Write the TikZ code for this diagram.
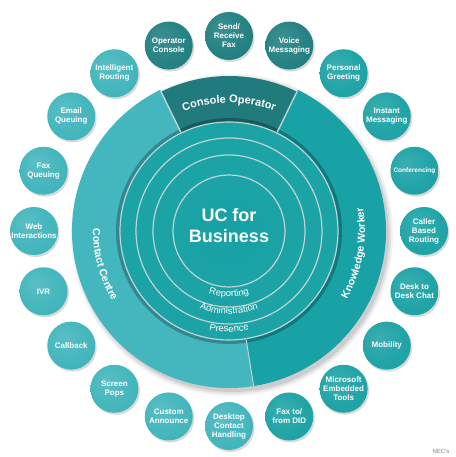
\documentclass[tikz,border=0pt]{standalone}
\usepackage{fontspec}
\setmainfont{Liberation Sans}
\usetikzlibrary{decorations.text,shadows}

\definecolor{uccontact}{HTML}{44B6BE}
\definecolor{ucknow}{HTML}{18A2A5}
\definecolor{uccons}{HTML}{217A7C}
\definecolor{ucring}{HTML}{16A1A4}
\definecolor{ringline}{HTML}{BFD5D5}
\definecolor{bubdarkc}{HTML}{1C7C7E}
\definecolor{bubmidc}{HTML}{17A0A3}
\definecolor{bublightc}{HTML}{3CB3BA}

% shadings for the bubbles (highlight top left) and for the rings
\pgfdeclareradialshading{bubdark}{\pgfpoint{-9bp}{9bp}}{color(0bp)=(bubdarkc!85!white); color(22bp)=(bubdarkc!95!white); color(40bp)=(bubdarkc); color(60bp)=(bubdarkc!78!black)}
\pgfdeclareradialshading{bubmid}{\pgfpoint{-9bp}{9bp}}{color(0bp)=(bubmidc!85!white); color(22bp)=(bubmidc!95!white); color(40bp)=(bubmidc); color(60bp)=(bubmidc!80!black)}
\pgfdeclareradialshading{bublight}{\pgfpoint{-9bp}{9bp}}{color(0bp)=(bublightc!85!white); color(22bp)=(bublightc!95!white); color(40bp)=(bublightc); color(60bp)=(bublightc!80!black)}
\pgfdeclareradialshading{ringshade}{\pgfpoint{0bp}{0bp}}{color(0bp)=(ucring); color(38bp)=(ucring!96!white); color(46bp)=(ucring!90!black); color(50bp)=(ucring!72!black)}

\tikzset{
  bubble/.style={circle, minimum size=48pt, inner sep=0pt, align=center,
    shading=#1, text=white, font=\bfseries\fontsize{8}{9}\selectfont,
    drop shadow={shadow xshift=1.5pt, shadow yshift=-2pt, opacity=0.3}},
  sepline/.style={ringline, line width=1.4pt},
  bandtext/.style={decorate, decoration={text along path, text align=center,
    text color=white, text={#1}}}
}

\begin{document}
\begin{tikzpicture}[x=1pt, y=1pt]
  \useasboundingbox (-229,-226) rectangle (226,231);

  % soft shadow under the big disc
  \foreach \s/\op in {161/0.05, 159/0.07, 157/0.09} {
    \fill[black, opacity=\op] (3,-4) circle (\s);
  }

  % outer band: contact centre, knowledge worker, console operator
  \fill[uccontact] (116:157) arc[start angle=116, end angle=279, radius=157]
    -- (279:109) arc[start angle=279, end angle=116, radius=109] -- cycle;
  \fill[ucknow] (-81:157) arc[start angle=-81, end angle=64, radius=157]
    -- (64:109) arc[start angle=64, end angle=-81, radius=109] -- cycle;
  \fill[uccons] (64:155) arc[start angle=64, end angle=116, radius=155]
    -- (116:109) arc[start angle=116, end angle=64, radius=109] -- cycle;

  % shadow at the inner edge of the band
  \fill[black, opacity=0.25] (0,0) circle (113);

  % concentric rings and the centre disc
  \foreach \r in {109,93,76,56} {
    \fill[shading=ringshade] (0,0) circle (\r);
    \draw[ringline, line width=1.2pt] (0,0) circle (\r);
  }

  % lines between the band sectors
  \draw[sepline] (64:110) -- (64:156);
  \draw[sepline] (116:110) -- (116:156);
  \draw[sepline, line width=1pt] (279:110) -- (279:157);

  % band labels
  \path[bandtext={|\bfseries\fontsize{11}{13}\selectfont|Console Operator}]
    (130:128) arc[start angle=130, end angle=50, radius=128];
  \path[bandtext={|\bfseries\fontsize{10.5}{12}\selectfont|Contact Centre}]
    (145:136) arc[start angle=145, end angle=245, radius=136];
  \path[bandtext={|\bfseries\fontsize{10.5}{12}\selectfont|Knowledge Worker}]
    (-60:136) arc[start angle=-60, end angle=40, radius=136];

  % ring labels
  \path[bandtext={|\fontsize{9.5}{11}\selectfont|Reporting}]
    (-150:66) arc[start angle=-150, end angle=-30, radius=66];
  \path[bandtext={|\fontsize{9.5}{11}\selectfont|Administration}]
    (-150:83) arc[start angle=-150, end angle=-30, radius=83];
  \path[bandtext={|\fontsize{9.5}{11}\selectfont|Presence}]
    (-150:101) arc[start angle=-150, end angle=-30, radius=101];

  % centre title
  \node[align=center, text=white, font=\bfseries\fontsize{18}{21}\selectfont] (title) at (0,5) {UC for\\Business};

  % satellite bubbles
  \foreach \ang/\nm/\kind/\txt in {
      90/sendfax/bubdark/{Send/\\Receive\\Fax},
      72/voicemsg/bubdark/{Voice\\Messaging},
      54/greeting/bubmid/{Personal\\Greeting},
      36/instant/bubmid/{Instant\\Messaging},
      18/confer/bubmid/{{\fontsize{6.5}{8}\selectfont Conferencing}},
      0/callerrt/bubmid/{Caller\\Based\\Routing},
      -18/deskchat/bubmid/{Desk to\\Desk Chat},
      -36/mobility/bubmid/{Mobility},
      -54/msembed/bubmid/{Microsoft\\Embedded\\Tools},
      -72/faxdid/bubmid/{Fax to/\\from DID},
      -90/desktop/bublight/{Desktop\\Contact\\Handling},
      -108/announce/bublight/{Custom\\Announce},
      -126/screenpop/bublight/{Screen\\Pops},
      -144/callback/bublight/{Callback},
      -162/ivr/bublight/{IVR},
      180/webint/bublight/{Web\\Interactions},
      162/faxq/bublight/{Fax\\Queuing},
      144/emailq/bublight/{Email\\Queuing},
      126/introute/bublight/{Intelligent\\Routing},
      108/opconsole/bubdark/{Operator\\Console}} {
    \node[bubble=\kind] (\nm) at (\ang:195) {\txt};
  }

  % source note
  \node[text=gray, font=\fontsize{6}{7}\selectfont] (source) at (212,-220) {NEC's};
\end{tikzpicture}
\end{document}
